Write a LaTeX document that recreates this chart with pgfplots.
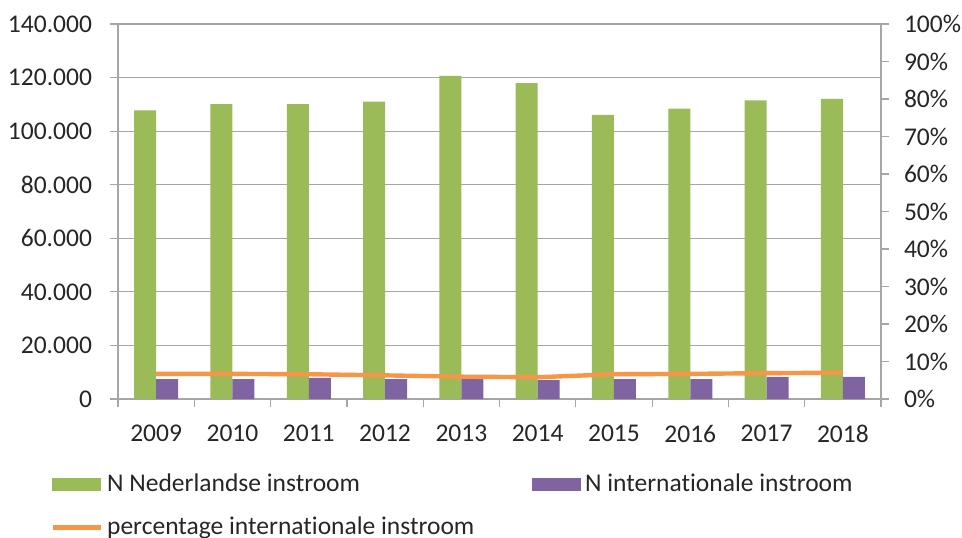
\documentclass[border=0pt]{standalone}
\usepackage{pgfplots}
\pgfplotsset{compat=1.18}
\usepackage{fontspec}
\setmainfont[Ligatures=NoCommon]{Carlito}

\definecolor{nlgreen}{HTML}{9BBB59}
\definecolor{intpurple}{HTML}{8064A2}
\definecolor{pctorange}{HTML}{F79646}
\definecolor{axgray}{HTML}{A6A6A6}
\definecolor{txt}{HTML}{262626}

% instroom per jaar (x = 0 .. 9 for 2009 .. 2018)
\pgfplotstableread{
x  nl      int   pct
0  107750  7400  6.7
1  110100  7400  6.7
2  110100  7900  6.6
3  111000  7400  6.3
4  120600  7400  5.95
5  117900  7000  5.8
6  106100  7400  6.6
7  108400  7400  6.7
8  111500  8250  6.9
9  112000  8250  7.0
}\instroom

\pgfplotsset{
  common/.style={
    width=381.5bp, height=187.5bp, scale only axis,
    at={(59bp,69.5bp)}, anchor=south west,
    xmin=-0.5, xmax=9.5,
    tick align=outside,
    major tick length=4bp, minor tick length=4bp,
    axis line style={-, axgray, line width=0.6bp},
    tick style={axgray, line width=0.6bp},
    ticklabel style={font=\fontsize{12.8}{15}\selectfont, text=txt},
    /pgf/number format/assume math mode=true,
  },
}

\begin{document}
\begin{tikzpicture}
\useasboundingbox (0,0) rectangle (481bp,269bp);

\begin{axis}[common,
  axis y line*=left, axis x line*=bottom,
  ymin=0, ymax=140000,
  ytick={0,20000,...,140000},
  scaled y ticks=false,
  /pgf/number format/fixed,
  /pgf/number format/1000 sep={.},
  yticklabel style={xshift=-5.5bp},
  ymajorgrids, grid style={axgray, line width=0.6bp},
  xtick={0,...,9},
  xticklabels={2009,2010,2011,2012,2013,2014,2015,2016,2017,2018},
  major x tick style={draw=none},
  minor xtick={-0.5,0.5,...,9.5},
  xticklabel style={yshift=-5.5bp},
]
\addplot[ybar, bar width=11bp, bar shift=-5.5bp, fill=nlgreen, draw=none]
  table[x=x, y=nl] {\instroom};
\addplot[ybar, bar width=11bp, bar shift=5.5bp, fill=intpurple, draw=none]
  table[x=x, y=int] {\instroom};
\end{axis}

\begin{axis}[common,
  axis y line*=right, axis x line=none,
  ymin=0, ymax=100,
  ytick={0,10,...,100},
  yticklabel={\pgfmathprintnumber{\tick}\%},
  yticklabel style={xshift=4bp},
  legend columns=2,
  legend cell align=left,
  legend style={at={(-0.097,-0.178)}, anchor=north west,
    draw=none, fill=none, row sep=7bp,
    font=\fontsize{12.8}{15}\selectfont, text=txt,
    /tikz/every even column/.append style={column sep=27bp}},
]
\addlegendimage{legend image code/.code={\fill[nlgreen] (0bp,-3bp) rectangle (24bp,3bp);}}
\addlegendimage{legend image code/.code={\fill[intpurple] (0bp,-3bp) rectangle (24bp,3bp);}}
\addplot[pctorange, line width=2.2bp,
  legend image code/.code={\draw[pctorange, line width=2.4bp] (0bp,0bp) -- (24bp,0bp);}]
  table[x=x, y=pct] {\instroom};
\legend{N Nederlandse instroom, N internationale instroom, percentage internationale instroom}
\end{axis}
\end{tikzpicture}
\end{document}
